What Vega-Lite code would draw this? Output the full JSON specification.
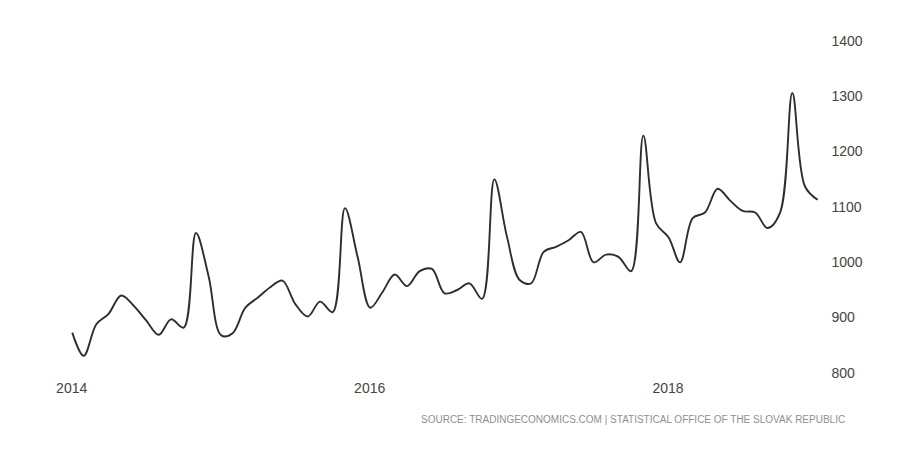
{
  "$schema": "https://vega.github.io/schema/vega-lite/v6.json",
  "width": 785,
  "height": 332,
  "autosize": "none",
  "padding": {"left": 40, "top": 41, "right": 90, "bottom": 83},
  "background": "#ffffff",
  "config": {"view": {"stroke": null}, "font": "Liberation Sans"},
  "title": {
    "text": "SOURCE: TRADINGECONOMICS.COM | STATISTICAL OFFICE OF THE SLOVAK REPUBLIC",
    "orient": "bottom",
    "anchor": "end",
    "fontSize": 10,
    "fontWeight": "normal",
    "color": "#8f8f8f",
    "font": "Liberation Sans",
    "offset": 20,
    "dx": -17
  },
  "data": {
    "values": [
      {"date": "2014-02-01", "value": 873},
      {"date": "2014-03-01", "value": 831},
      {"date": "2014-04-01", "value": 888},
      {"date": "2014-05-01", "value": 907},
      {"date": "2014-06-01", "value": 940},
      {"date": "2014-07-01", "value": 922},
      {"date": "2014-08-01", "value": 895},
      {"date": "2014-09-01", "value": 869},
      {"date": "2014-10-01", "value": 897},
      {"date": "2014-11-01", "value": 882},
      {"date": "2014-12-01", "value": 1053},
      {"date": "2015-01-01", "value": 975},
      {"date": "2015-02-01", "value": 868},
      {"date": "2015-03-01", "value": 872},
      {"date": "2015-04-01", "value": 918},
      {"date": "2015-05-01", "value": 936},
      {"date": "2015-06-01", "value": 955},
      {"date": "2015-07-01", "value": 967},
      {"date": "2015-08-01", "value": 925},
      {"date": "2015-09-01", "value": 902},
      {"date": "2015-10-01", "value": 929},
      {"date": "2015-11-01", "value": 910},
      {"date": "2015-12-01", "value": 1098},
      {"date": "2016-01-01", "value": 1010},
      {"date": "2016-02-01", "value": 918},
      {"date": "2016-03-01", "value": 945},
      {"date": "2016-04-01", "value": 978},
      {"date": "2016-05-01", "value": 957},
      {"date": "2016-06-01", "value": 984},
      {"date": "2016-07-01", "value": 988},
      {"date": "2016-08-01", "value": 944},
      {"date": "2016-09-01", "value": 950},
      {"date": "2016-10-01", "value": 962},
      {"date": "2016-11-01", "value": 934},
      {"date": "2016-12-01", "value": 1150},
      {"date": "2017-01-01", "value": 1046},
      {"date": "2017-02-01", "value": 968},
      {"date": "2017-03-01", "value": 962},
      {"date": "2017-04-01", "value": 1019},
      {"date": "2017-05-01", "value": 1028},
      {"date": "2017-06-01", "value": 1040},
      {"date": "2017-07-01", "value": 1055},
      {"date": "2017-08-01", "value": 1000},
      {"date": "2017-09-01", "value": 1014},
      {"date": "2017-10-01", "value": 1010},
      {"date": "2017-11-01", "value": 984},
      {"date": "2017-12-01", "value": 1229},
      {"date": "2018-01-01", "value": 1071},
      {"date": "2018-02-01", "value": 1045},
      {"date": "2018-03-01", "value": 1000},
      {"date": "2018-04-01", "value": 1080},
      {"date": "2018-05-01", "value": 1090},
      {"date": "2018-06-01", "value": 1133},
      {"date": "2018-07-01", "value": 1112},
      {"date": "2018-08-01", "value": 1093},
      {"date": "2018-09-01", "value": 1090},
      {"date": "2018-10-01", "value": 1062},
      {"date": "2018-11-01", "value": 1090},
      {"date": "2018-12-01", "value": 1306},
      {"date": "2019-01-01", "value": 1137},
      {"date": "2019-02-01", "value": 1113}
    ]
  },
  "mark": {"type": "line", "interpolate": "catmull-rom", "color": "#2e2e2e", "strokeWidth": 1.9},
  "encoding": {
    "x": {
      "field": "date",
      "type": "temporal",
      "scale": {"domain": ["2013-11-14", "2019-02-19"]},
      "axis": {
        "title": null,
        "values": ["2014-01-01", "2016-01-01", "2018-01-01"],
        "format": "%Y",
        "grid": false,
        "domain": false,
        "ticks": false,
        "labelAlign": "left",
        "labelOffset": -4,
        "labelPadding": 8,
        "labelFontSize": 14,
        "labelColor": "#444444"
      }
    },
    "y": {
      "field": "value",
      "type": "quantitative",
      "scale": {"domain": [800, 1400], "nice": false, "zero": false},
      "axis": {
        "orient": "right",
        "title": null,
        "values": [800, 900, 1000, 1100, 1200, 1300, 1400],
        "format": "d",
        "grid": false,
        "domain": false,
        "ticks": false,
        "labelAlign": "left",
        "labelPadding": 6,
        "labelFontSize": 14,
        "labelColor": "#444444"
      }
    }
  }
}
